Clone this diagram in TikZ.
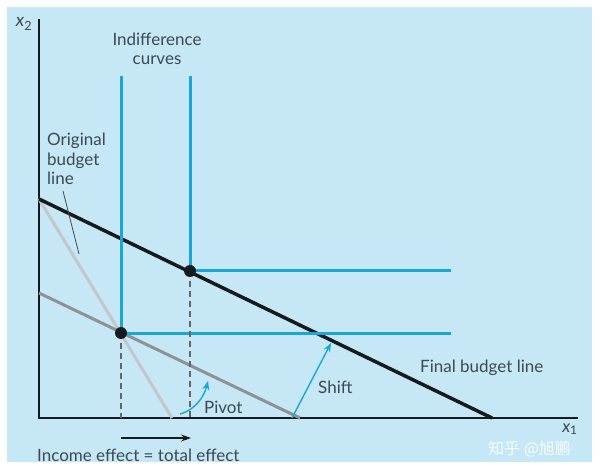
\documentclass[tikz,border=0pt]{standalone}
\usepackage{fontspec}
\setmainfont{Lato}
\newfontfamily\cjkfont{Noto Sans CJK SC}
\usetikzlibrary{arrows.meta}
\definecolor{bgblue}{HTML}{C6E7F6}
\definecolor{icblue}{HTML}{1AA7D8}
\definecolor{lightgr}{HTML}{C4C7C9}
\definecolor{midgr}{HTML}{8E9294}
\definecolor{txt}{HTML}{3A4954}
\definecolor{ink}{HTML}{141A1E}
\tikzset{
  lbl/.style={text=txt, font=\fontsize{17}{19.5}\selectfont, inner sep=0pt},
  axis/.style={draw=ink, line width=2pt},
  icurve/.style={draw=icblue, line width=3pt},
  finalline/.style={draw=ink, line width=3.5pt},
  origline/.style={draw=lightgr, line width=3pt},
  pivotline/.style={draw=midgr, line width=3pt},
  guide/.style={draw=midgr!70!black, line width=1.1pt, dash pattern=on 6pt off 4pt},
  bluearrow/.style={draw=icblue, line width=1.4pt, -{Stealth[length=9pt,width=7pt]}},
  dot/.style={circle, fill=ink, inner sep=0pt, minimum size=12pt}
}
\begin{document}
\begin{tikzpicture}[x=1pt,y=-1pt]
\useasboundingbox (0,0) rectangle (600,473);
\fill[bgblue] (7,7) rectangle (592,462);
% axes
\coordinate (O) at (39,418);
\coordinate (ytop) at (39,19);
\coordinate (xend) at (578,418);
\draw[axis] (ytop) -- (O) -- (xend);
\node[lbl, font=\fontsize{18}{19}\selectfont\itshape] (x2) at (24,24) {x\textsubscript{\upshape 2}};
\node[lbl, font=\fontsize{17}{19}\selectfont\itshape] (x1) at (570,429) {x\textsubscript{\upshape 1}};
% budget lines
\coordinate (A) at (39,199);
\coordinate (origend) at (172,418);
\coordinate (finalend) at (492,418);
\coordinate (P) at (39,293);
\coordinate (pivotend) at (300,418);
\draw[origline] (A) -- (origend);
\draw[pivotline] (P) -- (pivotend);
\draw[finalline] (A) -- (finalend);
% indifference curves
\coordinate (ic1top) at (121,76);
\coordinate (ic1c) at (121,333);
\coordinate (ic1r) at (451,333);
\coordinate (ic2top) at (190,76);
\coordinate (ic2c) at (190,271);
\coordinate (ic2r) at (451,271);
\draw[icurve] (ic1top) -- (ic1c) -- (ic1r);
\draw[icurve] (ic2top) -- (ic2c) -- (ic2r);
% dashed guides
\coordinate (g1) at (121,418);
\coordinate (g2) at (190,418);
\draw[guide] (ic1c) -- (g1);
\draw[guide] (ic2c) -- (g2);
% dots
\node[dot] (d1) at (ic1c) {};
\node[dot] (d2) at (ic2c) {};
% income effect arrow
\coordinate (ia) at (121,438);
\coordinate (ib) at (191,438);
\draw[draw=ink, line width=1.6pt, -{Stealth[length=10pt,width=7pt]}] (ia) -- (ib);
\node[lbl, anchor=west] (inc) at (37,455) {Income effect = total effect};
% pivot arrow
\coordinate (pa) at (180,414);
\coordinate (pb) at (208,381);
\draw[bluearrow] (pa) .. controls (195,410) and (204,397) .. (pb);
\node[lbl, anchor=west] (pivot) at (204,407) {Pivot};
% shift arrow
\coordinate (sa) at (292,418);
\coordinate (sb) at (331,343);
\draw[bluearrow] (sa) -- (sb);
\node[lbl, anchor=west] (shift) at (318,387) {Shift};
% labels
\node[lbl, align=center] (ic) at (157,49) {Indifference\\curves};
\node[lbl, align=left, anchor=north west] (orig) at (47,133) {Original\\budget\\line};
\coordinate (la) at (63,191);
\coordinate (lb) at (79,254);
\draw[draw=ink!80, line width=0.8pt] (la) -- (lb);
\node[lbl, anchor=west] (final) at (420,368) {Final budget line};
% watermark
\node[text=white, opacity=0.85, font=\cjkfont\fontsize{16}{18}\selectfont, inner sep=0pt, anchor=west] (wm) at (488,449) {知乎 @旭鹏};
\end{tikzpicture}
\end{document}
